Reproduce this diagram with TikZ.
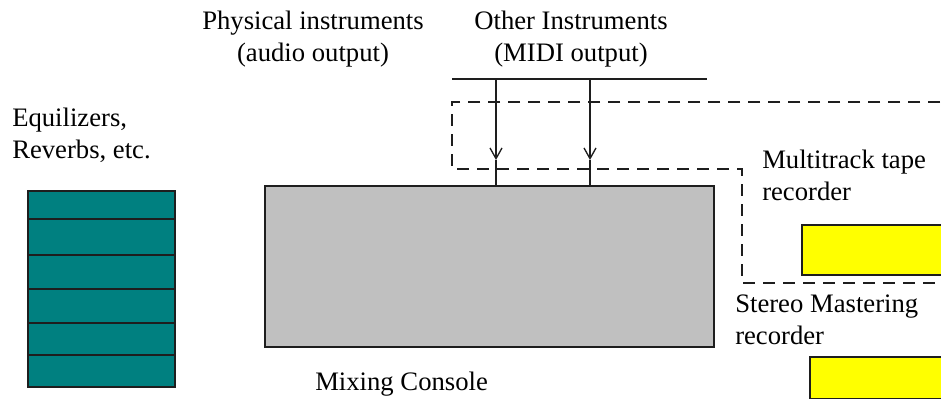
\documentclass[tikz,border=0pt]{standalone}
\usepackage{fontspec}
\setmainfont{Liberation Serif}
\usetikzlibrary{arrows.meta,positioning}
\definecolor{RackTeal}{RGB}{0,128,128}
\definecolor{DeskGray}{RGB}{192,192,192}
\definecolor{TapeYellow}{RGB}{255,255,0}
\definecolor{Ink}{RGB}{30,30,30}
\tikzset{
  >={Straight Barb[length=8pt,width=9pt]},
  unit/.style={draw=Ink,line width=1.2pt,outer sep=0pt,inner sep=0pt},
  rack/.style={unit,fill=RackTeal,minimum width=110.25pt,anchor=north west},
  console/.style={unit,fill=DeskGray,minimum width=336.75pt,minimum height=120.75pt,anchor=north west},
  tape/.style={unit,fill=TapeYellow,minimum width=120pt,anchor=north west},
  caption/.style={font=\fontsize{20}{24}\selectfont,text=black,inner sep=0pt,align=left,anchor=base west},
  bus/.style={draw=Ink,line width=1pt},
  midi/.style={->,draw=Ink,line width=1pt},
  zone/.style={draw=Ink,line width=1pt,dash pattern=on 9pt off 6pt}
}
\begin{document}
\begin{tikzpicture}[x=0.75pt,y=-0.75pt]
  \clip (0,0) rectangle (941,400);
  \fill[white] (0,0) rectangle (941,400);
  % effects rack
  \foreach \top/\h [count=\i] in {191/28,219/36,255/34,289/34,323/32,355/32}
    \node[rack,minimum height=\h*0.75pt] (rack\i) at (28,\top) {};
  \node[caption] (fxlabel) at (12,158) {Equilizers,\\Reverbs, etc.};
  % mixing console
  \node[console] (mix) at (265,186) {};
  \node[caption] (mixlabel) at (315,390) {Mixing Console};
  % instrument inputs
  \node[caption,align=center,anchor=base] (audio) at (313,61) {Physical instruments\\(audio output)};
  \node[caption,align=center,anchor=base] (midiin) at (571,61) {Other Instruments\\(MIDI output)};
  \coordinate (busL) at (452,79);
  \coordinate (busR) at (707,79);
  \draw[bus] (busL) -- (busR);
  \foreach \x [count=\i] in {496,590} {
    \coordinate (tap\i) at (\x,79);
    \coordinate (tip\i) at (\x,160);
    \draw[midi] (tap\i) -- (tip\i);
    \draw[bus] (tip\i) -- (tip\i |- mix.north);
  }
  % recorders
  \node[caption] (multilabel) at (762,200) {Multitrack tape\\recorder};
  \node[tape,minimum height=37.5pt] (multi) at (802,225) {};
  \node[caption] (stereolabel) at (735,344) {Stereo Mastering\\recorder};
  \node[tape,minimum height=31pt] (stereo) at (810,357) {};
  % dashed zone
  \draw[zone] (960,102) -- (452,102) -- (452,169) -- (742,169) -- (742,283) -- (960,283);
\end{tikzpicture}
\end{document}
